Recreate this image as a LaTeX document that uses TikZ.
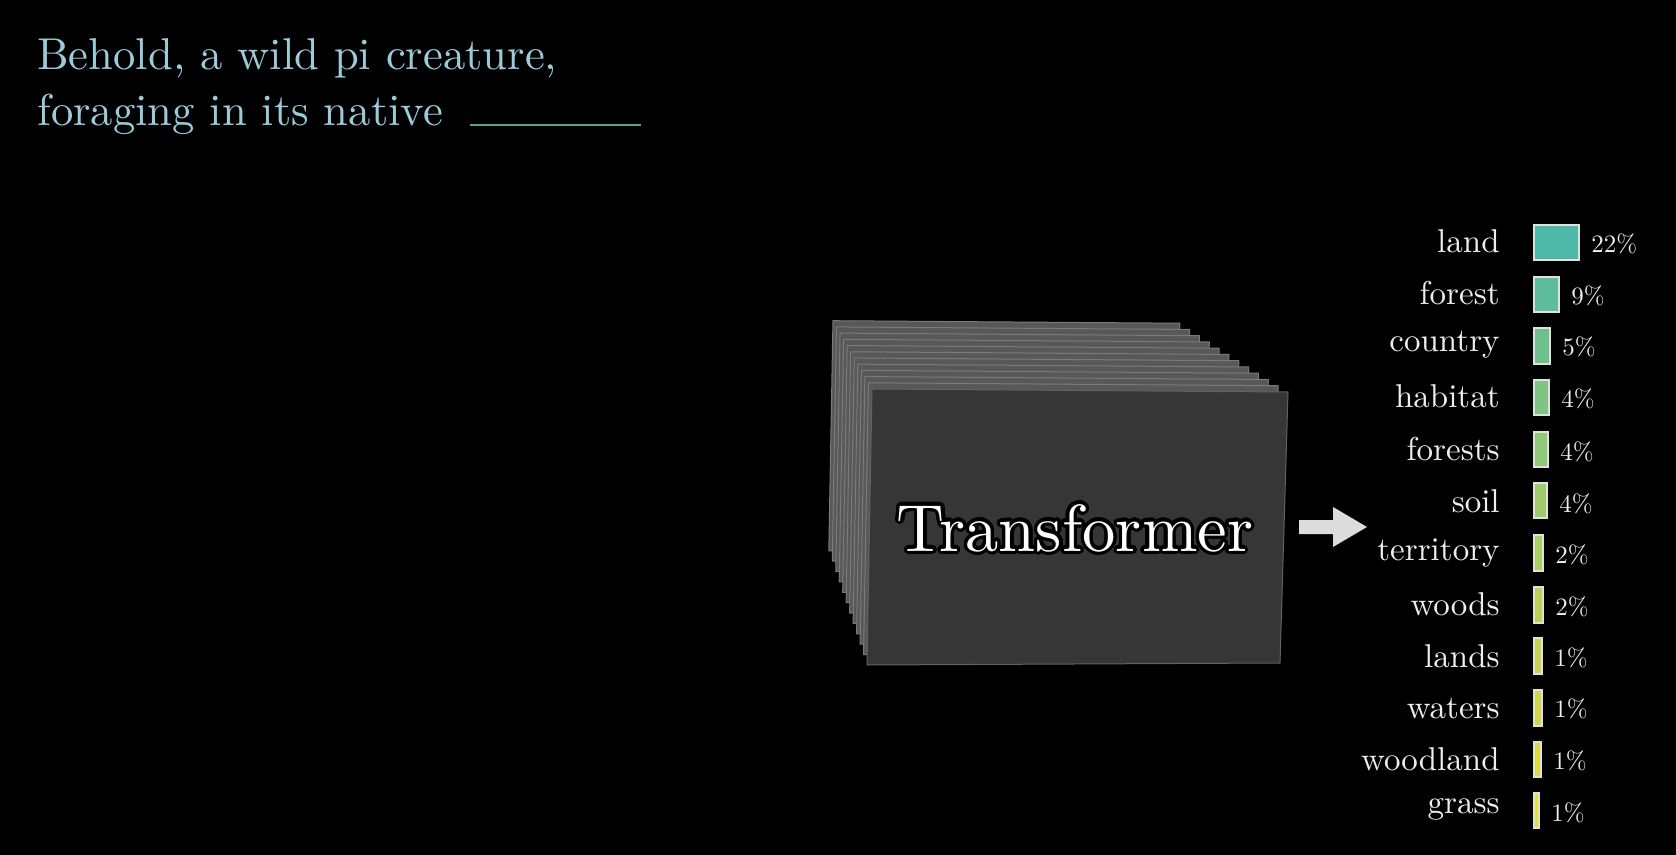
\documentclass[tikz,border=0pt]{standalone}
\usepackage{fontspec}
\setmainfont{lmroman10-regular}[Extension=.otf]
\usepackage{contour}
\usetikzlibrary{calc}
\definecolor{titleblue}{HTML}{9BCBDA}
\definecolor{blankline}{HTML}{55A38C}
\definecolor{barstart}{HTML}{4DB8A8}
\definecolor{barend}{HTML}{EADD34}
\definecolor{panelback}{HTML}{585858}
\definecolor{paneledge}{HTML}{7A7A7A}
\definecolor{panelfront}{HTML}{363636}
\definecolor{arrowgray}{HTML}{DCDCDC}
\definecolor{wordwhite}{HTML}{EEEEEE}
\contourlength{1.6pt}
\contournumber{32}
\tikzset{
  titletext/.style={text=titleblue, inner sep=0pt, font=\fontsize{22.3}{26}\selectfont},
  blank/.style={draw=blankline, line width=1.3pt},
  panel/.style={fill=panelback, draw=paneledge, line width=0.5pt, line join=round},
  frontpanel/.style={fill=panelfront, draw=paneledge!80!black, line width=0.5pt, line join=round},
  tftext/.style={inner sep=0pt, font=\fontsize{33.3}{38}\selectfont},
  bigarrow/.style={fill=arrowgray},
  wordlabel/.style={text=wordwhite, inner sep=0pt, font=\fontsize{16.5}{20}\selectfont},
  pctlabel/.style={text=wordwhite, inner sep=0pt, font=\fontsize{12.5}{15}\selectfont},
  probbar/.style={draw=white!88!black, line width=0.6pt}
}
\begin{document}
\begin{tikzpicture}[x=0.5pt,y=-0.5pt]
\fill[black] (0,0) rectangle (1676,855);
\useasboundingbox (0,0) rectangle (1676,855);

% title
\node[titletext, anchor=base west] (line1) at (37,70) {Behold, a wild pi creature,};
\node[titletext, anchor=base west] (line2) at (37,126) {foraging in its native};
\draw[blank] (470,125) -- (641,125);

% transformer stack
\coordinate (V) at (637,-22);
\coordinate (A) at (872,389);
\coordinate (B) at (1288,392);
\coordinate (C) at (1280,663);
\coordinate (D) at (867,665);
\foreach \i in {11,10,...,1}{
  \pgfmathsetmacro\s{1-0.0151*\i}
  \filldraw[panel] ($(V)!\s!(A)$) -- ($(V)!\s!(B)$) -- ($(V)!\s!(C)$) -- ($(V)!\s!(D)$) -- cycle;
}
\filldraw[frontpanel] (A) -- (B) -- (C) -- (D) -- cycle;
\node[tftext, anchor=base] (tf) at (1075,551) {\contour{black}{\color{white}Transformer}};

% arrow
\fill[bigarrow] (1299,520) -- (1333,520) -- (1333,507) -- (1367,527) -- (1333,547) -- (1333,534) -- (1299,534) -- cycle;

% distribution
\foreach \word/\top/\bot/\right/\wb/\pct/\pb/\mix [count=\n] in {
  land/225/260/1579/253/22/253/0,
  forest/277/312/1559/305/9/305/10,
  country/328/364/1550/352/5/356/22,
  habitat/380/415/1549/408/4/408/32,
  forests/432/467/1548/460/4/460/42,
  soil/483/518/1547/512/4/512/52,
  territory/535/571/1543/560/2/563/60,
  woods/587/623/1543/615/2/615/68,
  lands/638/674/1542/667/1/666/76,
  waters/690/726/1542/718/1/717/84,
  woodland/742/777/1541/770/1/769/92,
  grass/793/828/1539/813/1/821/100}{
  \node[wordlabel, anchor=base east] (w\n) at (1500,\wb) {\word};
  \filldraw[probbar, fill=barend!\mix!barstart] (1534,\top) rectangle (\right,\bot);
  \node[pctlabel, anchor=base west] (p\n) at (\right+12,\pb) {\pct\%};
}
\end{tikzpicture}
\end{document}
